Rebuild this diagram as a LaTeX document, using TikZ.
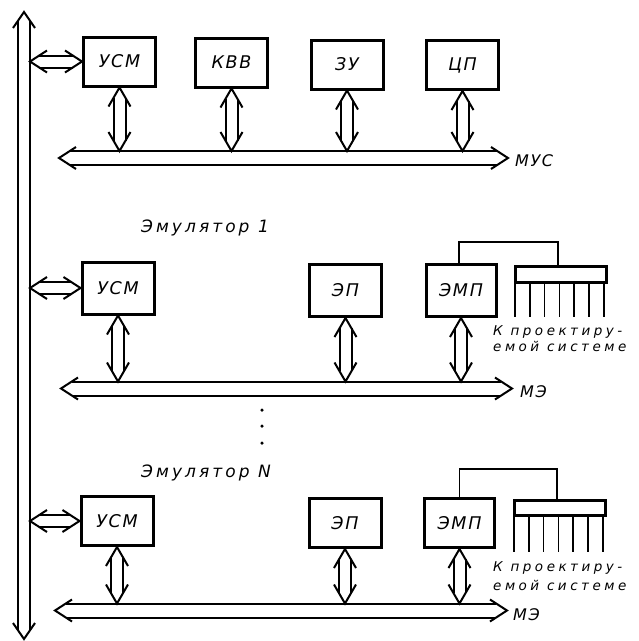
\documentclass[tikz,border=0pt]{standalone}
\usepackage{fontspec}
\setmainfont{DejaVu Sans}
\newfontfamily\gost{DejaVu Sans}[LetterSpace=10]
\newfontfamily\gostw{DejaVu Sans}[LetterSpace=18]
\newfontfamily\gostn{DejaVu Sans}[LetterSpace=26]
\usetikzlibrary{calc}
\tikzset{
  hollow/.style={line width=2pt, line join=miter, line cap=butt},
  blk/.style={draw, line width=3pt, minimum width=72pt, minimum height=49pt, inner sep=0pt,
    font=\gost\itshape\fontsize{17.5}{20}\selectfont},
  plugbox/.style={draw, line width=3pt, minimum width=91pt, minimum height=16pt, inner sep=0pt},
  pin/.style={line width=1.6pt},
  wire/.style={line width=1.1pt},
  lbl/.style={inner sep=0pt, font=\gost\itshape\fontsize{16}{19}\selectfont},
  title/.style={inner sep=0pt, font=\gostw\itshape\fontsize{17}{20}\selectfont},
  note/.style={inner sep=0pt, align=left, font=\gostn\itshape\fontsize{13.5}{16}\selectfont},
  dot/.style={circle, fill, inner sep=0pt, minimum size=3.5pt}
}
% hollow double-headed arrow: #1 from, #2 to, #3 shaft half-width, #4 head half-width, #5 head length
\newcommand\hol[5]{%
  \path let \p1=(#1), \p2=(#2), \n1={atan2(\y2-\y1,\x2-\x1)}, \n2={veclen(\x2-\x1,\y2-\y1)} in
    \pgfextra{\pgfmathsetmacro\hAt{\n1}\pgfmathsetmacro\hLt{\n2}\xdef\hA{\hAt}\xdef\hL{\hLt}\xdef\hX{\x1}\xdef\hY{\y1}};
  \pgfmathsetmacro\hS{#5*#3/#4}%
  \pgfmathsetmacro\hE{\hL-#5}%
  \pgfmathsetmacro\hF{\hL-\hS}%
  \begin{scope}[shift={(\hX,\hY)}, rotate=\hA]
    \draw[hollow] (#5pt,#4pt) -- (0pt,0pt) -- (#5pt,-#4pt);
    \draw[hollow] (\hE pt,#4pt) -- (\hL pt,0pt) -- (\hE pt,-#4pt);
    \draw[hollow] (\hS pt,#3pt) -- (\hF pt,#3pt);
    \draw[hollow] (\hS pt,-#3pt) -- (\hF pt,-#3pt);
  \end{scope}}
\begin{document}
\begin{tikzpicture}[x=1pt,y=-1pt]
\useasboundingbox (0,0) rectangle (639,641);
% main vertical bus
\coordinate (vt) at (24,12);
\coordinate (vb) at (24,639);
\coordinate (vr) at (30,0);
\hol{vt}{vb}{6}{11}{16}

% ---------- row 1 ----------
\node[blk] (usm1) at (119.5,61.5) {УСМ};
\node[blk] (kvv) at (231.5,62.5) {КВВ};
\node[blk] (zu) at (347,64.5) {ЗУ};
\node[blk] (cp) at (462.5,65) {ЦП};
\coordinate (b1l) at (59,158);
\coordinate (b1r) at (508,158);
\coordinate (b1t) at (0,151);
\hol{b1l}{b1r}{7}{11}{17}
\node[lbl, anchor=west] (mus) at (515,161) {МУС};
\hol{usm1.west -| vr}{usm1.west}{6}{11}{17}
\foreach \b in {usm1,kvv,zu,cp} {\hol{\b.south}{\b.south |- b1t}{6}{11}{19}}

% ---------- row 2 ----------
\node[title] (em1) at (205,228) {Эмулятор 1};
\node[blk, minimum height=52pt] (usm2) at (118,288) {УСМ};
\node[blk, minimum height=52pt] (ep2) at (345.5,290.5) {ЭП};
\node[blk, minimum height=52pt, minimum width=70pt] (emp2) at (461,290.5) {ЭМП};
\node[plugbox] (plug2) at (561,274.5) {};
\coordinate (w2) at (0,242);
\draw[wire] ($(emp2.north)+(-2,0)$) -- ($(emp2.north |- w2)+(-2,0)$) -| ($(plug2.north)+(-3,0)$);
\foreach \i in {0,...,6} {\draw[pin] ($(plug2.south west)+(1+\i*14.8,0)$) -- ++(0,33);}
\node[note, anchor=north west] (sys2) at (493,325) {К проектиру-\\емой системе};
\coordinate (b2l) at (61,388.5);
\coordinate (b2r) at (512,388.5);
\coordinate (b2t) at (0,381.5);
\hol{b2l}{b2r}{7}{11}{17}
\node[lbl, anchor=west] (me2) at (520,392) {МЭ};
\hol{usm2.west -| vr}{usm2.west}{6}{11}{17}
\foreach \b in {usm2,ep2,emp2} {\hol{\b.south}{\b.south |- b2t}{6}{11}{19}}

% dots
\node[dot] (d1) at (262,410) {};
\node[dot] (d2) at (262,426) {};
\node[dot] (d3) at (262,443) {};

% ---------- row 3 ----------
\node[title] (emn) at (206,473) {Эмулятор N};
\node[blk] (usm3) at (117,521) {УСМ};
\node[blk] (ep3) at (345,523) {ЭП};
\node[blk, minimum width=70pt] (emp3) at (459.5,523) {ЭМП};
\node[plugbox, minimum height=15pt] (plug3) at (560,508) {};
\coordinate (w3) at (0,469);
\draw[wire] (emp3.north) -- (emp3.north |- w3) -| ($(plug3.north)+(-3,0)$);
\foreach \i in {0,...,6} {\draw[pin] ($(plug3.south west)+(1+\i*14.8,0)$) -- ++(0,35);}
\node[note, anchor=north west, font=\gostn\itshape\fontsize{13.5}{19}\selectfont] (sys3) at (493,561) {К проектиру-\\емой системе};
\coordinate (b3l) at (55,610.5);
\coordinate (b3r) at (507,610.5);
\coordinate (b3t) at (0,603.5);
\hol{b3l}{b3r}{7}{11}{17}
\node[lbl, anchor=west] (me3) at (513,615) {МЭ};
\hol{usm3.west -| vr}{usm3.west}{6}{11}{17}
\foreach \b in {usm3,ep3,emp3} {\hol{\b.south}{\b.south |- b3t}{6}{11}{19}}
\end{tikzpicture}
\end{document}
